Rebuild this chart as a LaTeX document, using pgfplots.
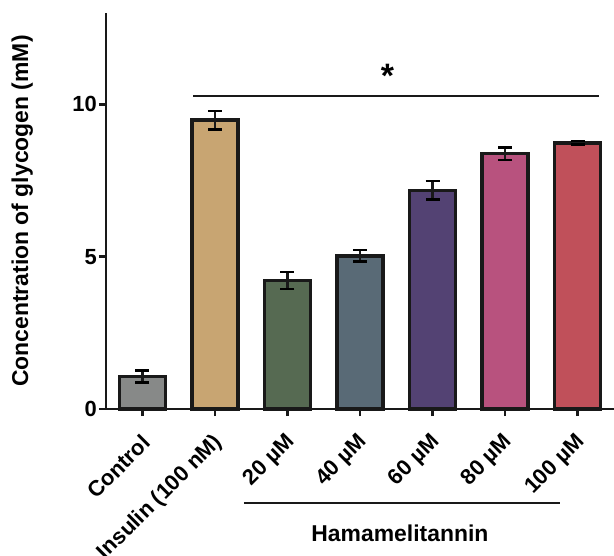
\documentclass[border=0pt]{standalone}
\usepackage{pgfplots}
\pgfplotsset{compat=1.18}
\usepackage{fontspec}
\setmainfont{Liberation Sans}
\definecolor{cCtrl}{HTML}{878988}
\definecolor{cIns}{HTML}{C8A572}
\definecolor{cA}{HTML}{566A52}
\definecolor{cB}{HTML}{596A76}
\definecolor{cC}{HTML}{534273}
\definecolor{cD}{HTML}{B8527E}
\definecolor{cE}{HTML}{C0505A}
\begin{document}
\begin{tikzpicture}
\begin{axis}[
  scale only axis, width=508bp, height=396bp,
  xmin=-0.5, xmax=6.5, ymin=0, ymax=13,
  axis x line*=bottom, axis y line*=left,
  axis line style={line width=2.5bp, -, color=black!90},
  ytick={0,5,10},
  xtick={0,1,2,3,4,5,6},
  xticklabels={Control, Insulin (100 nM), 20 µM, 40 µM, 60 µM, 80 µM, 100 µM},
  tick style={line width=2.5bp, black!90},
  tick align=outside, major tick length=7bp,
  /pgf/number format/assume math mode=true,
  yticklabel style={font=\fontsize{22}{26}\selectfont\bfseries, inner sep=2bp},
  xticklabel style={font=\fontsize{22}{26}\selectfont\bfseries, xshift=4bp, yshift=-23bp, rotate=45, anchor=east, inner sep=0bp},
  ylabel={Concentration of glycogen (mM)},
  ylabel style={font=\fontsize{23}{26}\selectfont\bfseries, at={(axis description cs:-0.165,0.5)}, anchor=center},
  clip=false,
  bar width=46bp,
  error bars/error bar style={line width=2.5bp},
  error bars/error mark options={rotate=90, mark size=7bp, line width=2.5bp},
]
\addplot[ybar, bar shift=0pt, fill=cCtrl, draw=black!90, line width=3.5bp, error bars/.cd, y dir=both, y explicit] coordinates {(0,1.07) +- (0,0.2)};
\addplot[ybar, bar shift=0pt, fill=cIns, draw=black!90, line width=3.5bp, error bars/.cd, y dir=both, y explicit] coordinates {(1,9.48) +- (0,0.31)};
\addplot[ybar, bar shift=0pt, fill=cA, draw=black!90, line width=3.5bp, error bars/.cd, y dir=both, y explicit] coordinates {(2,4.22) +- (0,0.28)};
\addplot[ybar, bar shift=0pt, fill=cB, draw=black!90, line width=3.5bp, error bars/.cd, y dir=both, y explicit] coordinates {(3,5.03) +- (0,0.19)};
\addplot[ybar, bar shift=0pt, fill=cC, draw=black!90, line width=3.5bp, error bars/.cd, y dir=both, y explicit] coordinates {(4,7.18) +- (0,0.31)};
\addplot[ybar, bar shift=0pt, fill=cD, draw=black!90, line width=3.5bp, error bars/.cd, y dir=both, y explicit] coordinates {(5,8.38) +- (0,0.21)};
\addplot[ybar, bar shift=0pt, fill=cE, draw=black!90, line width=3.5bp, error bars/.cd, y dir=both, y explicit] coordinates {(6,8.74) +- (0,0.05)};
\draw[line width=2.5bp, black!90] (axis cs:0.7,10.27) -- (axis cs:6.3,10.27);
\node[font=\fontsize{34}{40}\selectfont\bfseries] at (axis cs:3.38,10.95) {*};
\draw[line width=2.5bp, black!90] (axis cs:1.4,-3.09) -- (axis cs:5.75,-3.09);
\node[font=\fontsize{23}{26}\selectfont\bfseries] at (axis cs:3.55,-4.08) {Hamamelitannin};
\coordinate (O) at (axis cs:-0.5,0);
\end{axis}
\pgfresetboundingbox
\path[use as bounding box] ([xshift=-106bp,yshift=-147bp]O) rectangle ([xshift=508bp,yshift=409bp]O);
\end{tikzpicture}
\end{document}
